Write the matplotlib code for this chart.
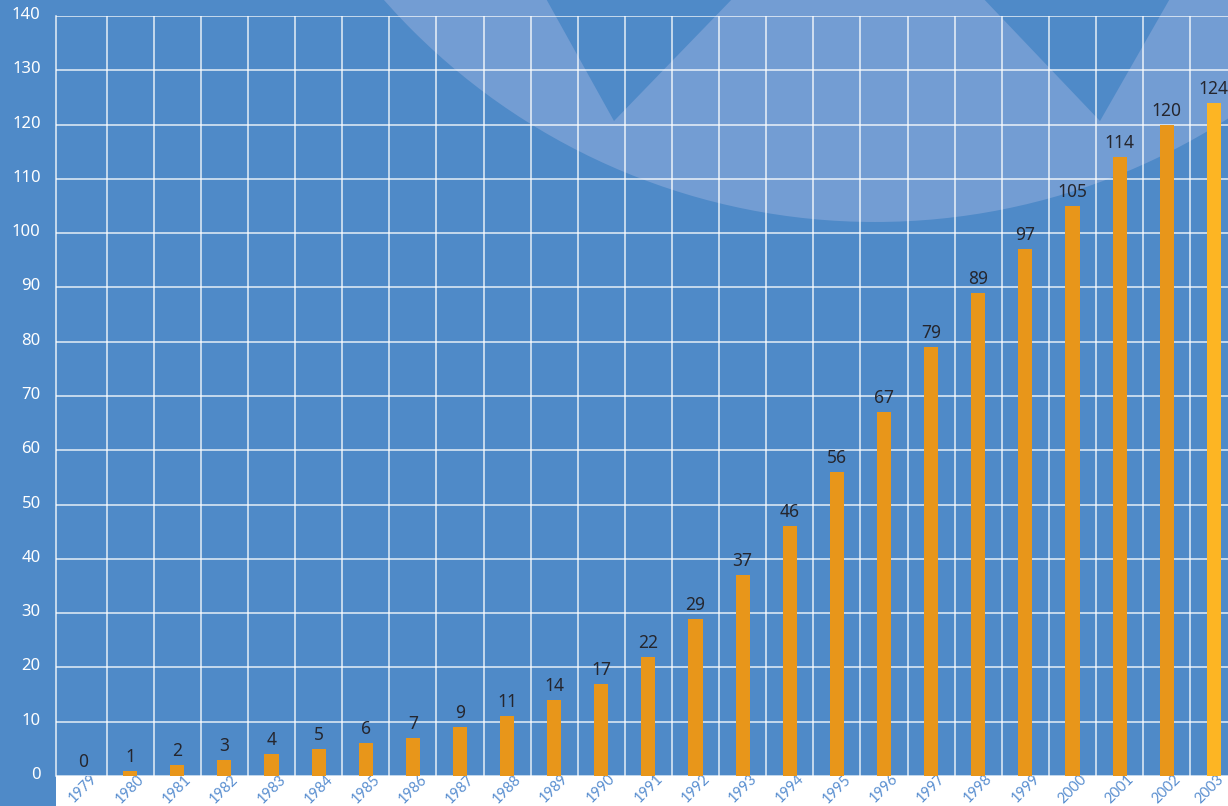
import matplotlib
matplotlib.use("Agg")
import matplotlib.pyplot as plt
from matplotlib.patches import Rectangle, Circle, Polygon
from matplotlib.transforms import Affine2D
import numpy as np

# Data
years = [str(y) for y in range(1979, 2004)]
values = [0, 1, 2, 3, 4, 5, 6, 7, 9, 11, 14, 17, 22, 29, 37, 46, 56, 67,
          79, 89, 97, 105, 114, 120, 124]
y_ticks = list(range(0, 141, 10))

W, H = 1228, 806
BLUE = "#4f8ac8"
LIGHT = "#739dd3"
BAR = "#e8961a"
BAR_LAST = "#fdb523"
LABEL = "#25262e"
XLABEL = "#5a8fd0"
FONT = ["Noto Sans", "DejaVu Sans"]

fig = plt.figure(figsize=(W / 100, H / 100), dpi=100, facecolor="white")
px = Affine2D().scale(1 / W, -1 / H).translate(0, 1) + fig.transFigure

# Blue panel behind the chart, with a white band under the plot area
fig.patches.append(Rectangle((0, 0), W, 776, transform=px, facecolor=BLUE,
                             edgecolor="none", zorder=-5))
fig.patches.append(Rectangle((0, 0), 56, H, transform=px, facecolor=BLUE,
                             edgecolor="none", zorder=-5))

# Decorative light disc with two cut-out wedges
disc = Circle((875, -432), 654, transform=px, facecolor=LIGHT,
              edgecolor="none", zorder=-4)
fig.patches.append(disc)
for tri in ([(544, -5), (736, -5), (614, 121)],
            [(980, -5), (1172, -5), (1100, 121)]):
    p = Polygon(tri, closed=True, transform=px, facecolor=BLUE,
                edgecolor="none", zorder=-3)
    p.set_clip_path(disc)
    fig.patches.append(p)

left, right, top, bottom = 56, 1228, 16, 776
ax = fig.add_axes([left / W, (H - bottom) / H, (right - left) / W,
                   (bottom - top) / H])
ax.set_facecolor("none")

x = np.arange(len(years))
colors = [BAR] * (len(years) - 1) + [BAR_LAST]
ax.bar(x, values, width=0.3, color=colors, zorder=3)

for xi, v in zip(x, values):
    ax.annotate(str(v), (xi, v), xytext=(0, 6.5), textcoords="offset points",
                ha="center", va="baseline", fontsize=12.5, color=LABEL,
                family=FONT, zorder=4)

ax.set_xlim(-0.573, 24.3)
ax.set_ylim(0, 140)
ax.set_yticks(y_ticks)
ax.set_yticklabels([str(t) for t in y_ticks], family=FONT, fontsize=12,
                   color="white")
ax.set_xticks(x)
ax.set_xticklabels(years, rotation=45, ha="center", va="top",
                   family=["Lato", "DejaVu Sans"], fontsize=10.5,
                   color=XLABEL)
ax.set_xticks(x[:-1] + 0.5, minor=True)
ax.tick_params(axis="y", length=0, pad=11)
ax.tick_params(axis="x", which="both", length=0, pad=-3)
for lab in ax.get_yticklabels():
    lab.set_transform(lab.get_transform() + Affine2D().translate(0, 3))
# keep the last year label inside the right edge
last = ax.get_xticklabels()[-1]
last.set_transform(last.get_transform() + Affine2D().translate(-4, 0))

ax.grid(axis="y", which="major", color="white", alpha=0.85, linewidth=1.1,
        zorder=1)
ax.grid(axis="x", which="minor", color="white", alpha=0.85, linewidth=1.1,
        zorder=1)
ax.grid(axis="x", which="major", visible=False)
ax.set_axisbelow(True)

for side in ("top", "right", "bottom"):
    ax.spines[side].set_visible(False)
ax.spines["left"].set_color("white")
ax.spines["left"].set_alpha(0.85)
ax.spines["left"].set_linewidth(1.1)

fig.savefig("out.png", dpi=100, facecolor="white")
